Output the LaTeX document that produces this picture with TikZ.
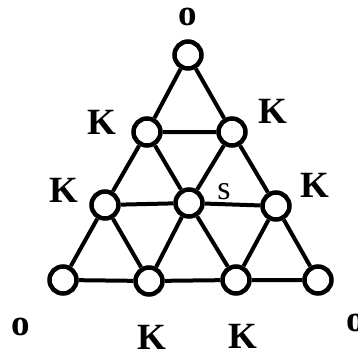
\documentclass[tikz,border=0pt]{standalone}
\usepackage{fontspec}
\setmainfont{Liberation Serif}
\begin{document}
\begin{tikzpicture}[x=1pt,y=-1pt,
  site/.style={circle,draw,line width=4.5pt,fill=white,minimum size=27pt,inner sep=0pt},
  lbl/.style={inner sep=0pt,font=\fontsize{37}{37}\selectfont\bfseries},
  slbl/.style={inner sep=0pt,font=\fontsize{34}{34}\selectfont},
  bond/.style={line width=4pt}]
\useasboundingbox (0,0) rectangle (357,359);
\node[site] (a) at (188,55) {};
\node[site] (b1) at (147,132) {};
\node[site] (b2) at (232,132) {};
\node[site] (c1) at (105,205) {};
\node[site] (c2) at (189,203) {};
\node[site] (c3) at (276,206) {};
\node[site] (d1) at (63,280) {};
\node[site] (d2) at (149,281) {};
\node[site] (d3) at (236,280) {};
\node[site] (d4) at (318,280) {};
\draw[bond] (a)--(b1) (a)--(b2) (b1)--(b2)
  (b1)--(c1) (b1)--(c2) (b2)--(c2) (b2)--(c3) (c1)--(c2) (c2)--(c3)
  (c1)--(d1) (c1)--(d2) (c2)--(d2) (c2)--(d3) (c3)--(d3) (c3)--(d4)
  (d1)--(d2) (d2)--(d3) (d3)--(d4);
\node[lbl] (la) at (188,17) {o};
\node[lbl] (lb1) at (102,122) {K};
\node[lbl] (lb2) at (273,111) {K};
\node[lbl] (lc1) at (64,190) {K};
\node[slbl] (lc2) at (224,192) {s};
\node[lbl] (lc3) at (315,185) {K};
\node[lbl] (ld1) at (21,327) {o};
\node[lbl] (ld2) at (152,337) {K};
\node[lbl] (ld3) at (243,336) {K};
\node[lbl] (ld4) at (356,323) {o};
\end{tikzpicture}
\end{document}
